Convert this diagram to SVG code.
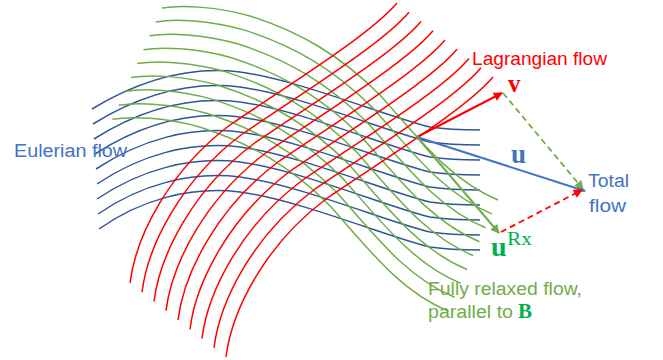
<svg xmlns="http://www.w3.org/2000/svg" xmlns:xlink="http://www.w3.org/1999/xlink" width="663" height="360" viewBox="0 0 663 360">
<style>
.eu{fill:none;stroke:#2F5597;stroke-width:1.5}
.la{fill:none;stroke:#FF0000;stroke-width:1.5}
.rx{fill:none;stroke:#70AD47;stroke-width:1.5}
.sans{font-family:"Liberation Sans",Arial,sans-serif;font-size:18px}
.serif{font-family:"Liberation Serif","Times New Roman",serif}
.vec{fill:none;stroke-width:2}
.dash{fill:none;stroke-width:1.8;stroke-dasharray:6 4}
</style>
<defs>
<marker id="ahRed" viewBox="0 0 10 10" refX="9" refY="5" markerWidth="11" markerHeight="9" markerUnits="userSpaceOnUse" orient="auto"><path d="M0,0 L10,5 L0,10 z" fill="#FF0000"/></marker>
<marker id="ahBlue" viewBox="0 0 10 10" refX="9" refY="5" markerWidth="11" markerHeight="9" markerUnits="userSpaceOnUse" orient="auto"><path d="M0,0 L10,5 L0,10 z" fill="#4472C4"/></marker>
<marker id="ahGreen" viewBox="0 0 10 10" refX="9" refY="5" markerWidth="11" markerHeight="9" markerUnits="userSpaceOnUse" orient="auto"><path d="M0,0 L10,5 L0,10 z" fill="#70AD47"/></marker>
</defs>
<rect width="663" height="360" fill="#FFFFFF"/>
<g id="eulerian-lines">
<path class="eu" d="M92,109 C140,80 190,66 240,72 C300,80 390,118 430,127 C450,130 465,130 480,130"/>
<path class="eu" d="M93,124 C140,95 190,81 240,87 C300,95 390,133 430,142 C450,145 465,145 480,145"/>
<path class="eu" d="M94,139 C140,110 190,96 240,102 C300,110 390,148 430,157 C450,160 465,160 480,160"/>
<path class="eu" d="M95,154 C140,125 190,111 240,117 C300,125 390,163 430,172 C450,175 465,175 480,175"/>
<path class="eu" d="M96,169 C140,140 190,126 240,132 C300,140 390,178 430,187 C450,190 465,190 480,190"/>
<path class="eu" d="M97,184 C140,155 190,141 240,147 C300,155 390,193 430,202 C450,205 465,205 480,205"/>
<path class="eu" d="M97,199 C140,170 190,156 240,162 C300,170 390,208 430,217 C450,220 465,220 480,220"/>
<path class="eu" d="M98,214 C140,185 190,171 240,177 C300,185 390,223 430,232 C450,235 465,235 480,235"/>
<path class="eu" d="M99,229 C140,200 190,186 240,192 C300,200 390,238 430,247 C450,250 465,250 480,250"/>
</g>
<g id="relaxed-lines">
<path class="rx" d="M162,8 C180,5 215,6 250,16 C300,32 340,55 380,95 C420,140 450,180 498,200"/>
<path class="rx" transform="translate(-6.2,13.9)" d="M162,8 C180,5 215,6 250,16 C300,32 340,55 380,95 C420,140 450,180 498,200"/>
<path class="rx" transform="translate(-12.4,27.8)" d="M162,8 C180,5 215,6 250,16 C300,32 340,55 380,95 C420,140 450,180 498,200"/>
<path class="rx" transform="translate(-18.6,41.7)" d="M162,8 C180,5 215,6 250,16 C300,32 340,55 380,95 C420,140 450,180 498,200"/>
<path class="rx" transform="translate(-24.8,55.6)" d="M162,8 C180,5 215,6 250,16 C300,32 340,55 380,95 C420,140 450,180 498,200"/>
<path class="rx" transform="translate(-31,69.5)" d="M162,8 C180,5 215,6 250,16 C300,32 340,55 380,95 C420,140 450,180 498,200"/>
<path class="rx" transform="translate(-37.2,83.4)" d="M162,8 C180,5 215,6 250,16 C300,32 340,55 380,95 C420,140 450,180 498,200"/>
<path class="rx" transform="translate(-43.4,97.3)" d="M162,8 C180,5 215,6 250,16 C300,32 340,55 380,95 C420,140 450,180 498,200"/>
<path class="rx" transform="translate(-49.6,111.2)" d="M162,8 C180,5 215,6 250,16 C300,32 340,55 380,95 C420,140 450,180 498,200"/>
</g>
<g id="lagrangian-lines">
<path class="la" d="M130,283 C136,235 170,170 230,125 C290,84 370,35 397,3"/>
<path class="la" transform="translate(12,9.25)" d="M130,283 C136,235 170,170 230,125 C290,84 370,35 397,3"/>
<path class="la" transform="translate(24,18.5)" d="M130,283 C136,235 170,170 230,125 C290,84 370,35 397,3"/>
<path class="la" transform="translate(36,27.75)" d="M130,283 C136,235 170,170 230,125 C290,84 370,35 397,3"/>
<path class="la" transform="translate(48,37)" d="M130,283 C136,235 170,170 230,125 C290,84 370,35 397,3"/>
<path class="la" transform="translate(60,46.25)" d="M130,283 C136,235 170,170 230,125 C290,84 370,35 397,3"/>
<path class="la" transform="translate(72,55.5)" d="M130,283 C136,235 170,170 230,125 C290,84 370,35 397,3"/>
<path class="la" transform="translate(84,64.75)" d="M130,283 C136,235 170,170 230,125 C290,84 370,35 397,3"/>
<path class="la" transform="translate(96,74)" d="M130,283 C136,235 170,170 230,125 C290,84 370,35 397,3"/>
</g>
<g id="vectors">
<line class="vec" x1="417" y1="137" x2="502" y2="93" stroke="#FF0000" marker-end="url(#ahRed)"/>
<line class="vec" x1="417" y1="137" x2="585" y2="191" stroke="#4472C4" marker-end="url(#ahBlue)"/>
<line class="vec" x1="417" y1="137" x2="499" y2="233" stroke="#70AD47" marker-end="url(#ahGreen)"/>
<line class="dash" x1="503" y1="93" x2="583" y2="189" stroke="#70AD47" marker-end="url(#ahGreen)"/>
<line class="dash" x1="501" y1="232" x2="582" y2="190" stroke="#FF0000" marker-end="url(#ahRed)"/>
</g>
<g id="labels">
<text class="sans" x="14" y="157" fill="#4472C4" textLength="113" lengthAdjust="spacingAndGlyphs">Eulerian flow</text>
<text class="sans" x="472" y="65" fill="#FF0000" textLength="135" lengthAdjust="spacingAndGlyphs">Lagrangian flow</text>
<text class="serif" x="508" y="91.5" fill="#FF0000" font-size="25" font-weight="bold">v</text>
<text class="serif" x="511" y="163" fill="#4472C4" font-size="27" font-weight="bold">u</text>
<text class="sans" x="588" y="187" fill="#4472C4" textLength="41" lengthAdjust="spacingAndGlyphs">Total</text>
<text class="sans" x="589" y="212" fill="#4472C4" textLength="37" lengthAdjust="spacingAndGlyphs">flow</text>
<text class="serif" x="491" y="256" fill="#00B050" font-size="28" font-weight="bold">u</text>
<text class="serif" x="507" y="245" fill="#00B050" font-size="19" textLength="25" lengthAdjust="spacingAndGlyphs">Rx</text>
<text class="sans" x="428" y="295" fill="#70AD47" textLength="154" lengthAdjust="spacingAndGlyphs">Fully relaxed flow,</text>
<text class="sans" x="428" y="318" fill="#70AD47" textLength="85" lengthAdjust="spacingAndGlyphs">parallel to</text>
<text class="serif" x="518" y="318" fill="#00B050" font-size="21" font-weight="bold">B</text>
</g>
</svg>
